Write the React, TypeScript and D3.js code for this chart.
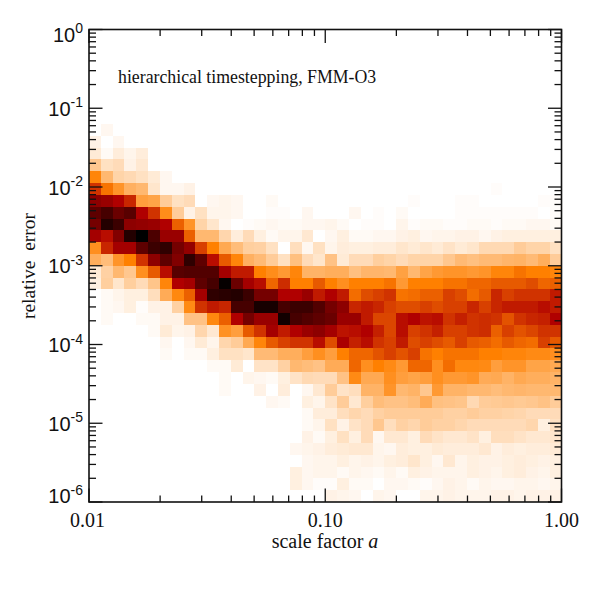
import React from 'react';
import * as d3 from 'd3';

const W = 591;
const left = 89, right = 561.5, top = 29.5, bottom = 502;

const yDecades = [0, -1, -2, -3, -4, -5, -6];
const xLabels = ['0.01', '0.10', '1.00'];
const xMajor = [0.01, 0.1, 1];
const title = 'hierarchical timestepping, FMM-O3';

// colour level per bin. rows run top to bottom, missing trailing bins are empty
const row08 = [0, 3];
const row09 = [5, 0, 3];
const row10 = [8, 2, 7, 4, 7];
const row11 = [22, 12, 14, 5, 9];
const row12 = [48, 28, 17, 15, 12, 8, 3];
const row13 = [62, 52, 42, 31, 28, 10, 3, 3, 5, 0, 0, 0, 0, 0, 0, 0, 0, 0, 0, 0, 0, 0, 0, 0, 0, 0, 0, 0, 0, 0, 0, 0, 0, 0, 1];
const row14 = [76, 74, 70, 64, 38, 36, 20, 12, 14, 0, 3, 4, 3, 0, 0, 2, 0, 0, 0, 0, 0, 0, 0, 0, 0, 0, 0, 1, 0, 0, 0, 1, 1, 0, 0, 0, 0, 0, 1, 1];
const row15 = [84, 88, 82, 85, 70, 62, 45, 20, 5, 12, 4, 4, 3, 0, 0, 1, 1, 0, 3, 0, 0, 0, 3, 0, 1, 0, 2, 0, 0, 0, 0, 1, 1, 1, 1, 1, 1, 1, 0, 1];
const row16 = [80, 94, 90, 76, 75, 74, 70, 55, 42, 17, 10, 3, 0, 1, 2, 3, 2, 2, 3, 3, 4, 2, 0, 1, 1, 0, 4, 1, 2, 2, 1, 1, 2, 2, 1, 2, 2, 3, 3, 2];
const row17 = [72, 68, 78, 94, 100, 87, 74, 74, 55, 28, 28, 16, 7, 14, 6, 2, 4, 4, 9, 0, 3, 6, 2, 2, 3, 3, 5, 6, 3, 4, 4, 5, 5, 3, 5, 6, 6, 6, 6, 6];
const row18 = [44, 64, 72, 72, 84, 90, 92, 80, 75, 60, 50, 34, 26, 19, 18, 12, 0, 13, 3, 12, 4, 7, 6, 6, 7, 7, 10, 8, 10, 8, 11, 8, 10, 15, 15, 15, 20, 17, 17, 12];
const row19 = [32, 26, 42, 50, 62, 76, 84, 78, 92, 84, 68, 56, 48, 31, 27, 20, 12, 25, 14, 10, 24, 8, 14, 14, 19, 17, 14, 17, 17, 17, 22, 27, 25, 27, 27, 29, 30, 27, 32, 20];
const row20 = [8, 18, 28, 22, 44, 56, 68, 85, 86, 86, 86, 72, 66, 66, 50, 45, 40, 48, 30, 30, 32, 32, 25, 29, 29, 28, 37, 28, 36, 40, 42, 42, 40, 42, 48, 48, 52, 50, 50, 48];
const row21 = [6, 19, 10, 19, 14, 23, 48, 70, 72, 84, 88, 99, 82, 72, 68, 54, 63, 50, 50, 56, 50, 44, 50, 50, 50, 52, 40, 50, 50, 50, 52, 52, 54, 54, 56, 56, 56, 58, 54, 55];
const row22 = [0, 2, 4, 6, 6, 13, 33, 47, 55, 72, 92, 93, 94, 90, 80, 80, 70, 70, 74, 66, 70, 66, 53, 58, 60, 62, 52, 53, 55, 55, 60, 58, 53, 56, 64, 60, 62, 62, 62, 66];
const row23 = [0, 2, 3, 6, 1, 5, 5, 18, 46, 62, 66, 64, 88, 88, 96, 96, 88, 90, 90, 86, 80, 76, 64, 66, 64, 60, 58, 58, 60, 58, 60, 60, 64, 60, 64, 66, 66, 66, 68, 66];
const row24 = [0, 2, 0, 0, 2, 2, 5, 5, 24, 24, 47, 55, 70, 80, 74, 74, 97, 88, 86, 84, 82, 74, 74, 66, 59, 59, 68, 70, 67, 68, 62, 65, 62, 63, 62, 57, 62, 64, 65, 70];
const row25 = [0, 0, 0, 0, 0, 2, 8, 4, 5, 16, 9, 43, 38, 56, 62, 72, 66, 70, 74, 76, 72, 67, 68, 70, 65, 59, 68, 60, 62, 65, 60, 60, 62, 63, 55, 60, 57, 59, 62, 62];
const row26 = [0, 0, 0, 0, 0, 0, 3, 0, 3, 8, 4, 16, 20, 34, 48, 56, 60, 62, 62, 68, 58, 71, 65, 68, 62, 60, 66, 58, 60, 58, 56, 60, 56, 55, 53, 56, 54, 53, 60, 56];
const row27 = [0, 0, 0, 0, 0, 0, 2, 0, 2, 2, 6, 12, 12, 10, 27, 27, 32, 32, 38, 44, 38, 50, 54, 54, 57, 60, 57, 60, 52, 50, 52, 52, 52, 50, 50, 48, 48, 46, 46, 44];
const row28 = [0, 0, 0, 0, 0, 0, 0, 0, 0, 0, 2, 2, 8, 0, 11, 11, 18, 28, 26, 24, 33, 33, 54, 44, 50, 46, 40, 54, 54, 44, 53, 47, 47, 46, 38, 42, 42, 36, 36, 34];
const row29 = [0, 0, 0, 0, 0, 0, 0, 0, 0, 0, 0, 2, 0, 4, 3, 2, 6, 11, 15, 14, 14, 24, 46, 34, 34, 44, 38, 36, 38, 44, 40, 40, 42, 33, 34, 30, 34, 32, 32, 30];
const row30 = [0, 0, 0, 0, 0, 0, 0, 0, 0, 0, 0, 2, 0, 0, 5, 0, 7, 0, 3, 9, 20, 11, 13, 30, 30, 42, 28, 30, 22, 40, 30, 30, 28, 28, 26, 28, 29, 28, 28, 28];
const row31 = [0, 0, 0, 0, 0, 0, 0, 0, 0, 0, 0, 0, 0, 0, 0, 3, 2, 0, 6, 4, 11, 20, 9, 19, 26, 24, 24, 26, 33, 25, 24, 23, 15, 20, 21, 22, 21, 22, 24, 20];
const row32 = [0, 0, 0, 0, 0, 0, 0, 0, 0, 0, 0, 0, 0, 0, 0, 0, 0, 0, 2, 7, 7, 13, 16, 14, 18, 20, 20, 20, 20, 20, 18, 18, 20, 18, 18, 17, 16, 14, 14, 14];
const row33 = [0, 0, 0, 0, 0, 0, 0, 0, 0, 0, 0, 0, 0, 0, 0, 0, 0, 0, 2, 4, 12, 5, 11, 14, 22, 13, 18, 16, 20, 18, 18, 16, 14, 14, 14, 14, 14, 16, 6, 12];
const row34 = [0, 0, 0, 0, 0, 0, 0, 0, 0, 0, 0, 0, 0, 0, 0, 0, 0, 0, 5, 2, 6, 12, 6, 14, 3, 9, 9, 6, 14, 11, 9, 9, 11, 6, 13, 13, 11, 9, 9, 10];
const row35 = [0, 0, 0, 0, 0, 0, 0, 0, 0, 0, 0, 0, 0, 0, 0, 0, 0, 3, 4, 5, 7, 8, 9, 9, 4, 3, 7, 6, 6, 8, 7, 7, 7, 9, 5, 7, 6, 7, 7, 8];
const row36 = [0, 0, 0, 0, 0, 0, 0, 0, 0, 0, 0, 0, 0, 0, 0, 0, 0, 0, 3, 4, 4, 6, 4, 5, 4, 6, 7, 10, 6, 3, 9, 4, 6, 5, 5, 6, 7, 6, 5, 6];
const row37 = [0, 0, 0, 0, 0, 0, 0, 0, 0, 0, 0, 0, 0, 0, 0, 0, 0, 6, 3, 4, 4, 2, 4, 3, 2, 4, 2, 6, 5, 4, 4, 4, 6, 5, 4, 6, 7, 5, 4, 6];
const row38 = [0, 0, 0, 0, 0, 0, 0, 0, 0, 0, 0, 0, 0, 0, 0, 0, 0, 6, 3, 1, 1, 6, 2, 2, 0, 3, 3, 2, 1, 3, 5, 4, 2, 4, 3, 3, 4, 4, 3, 4];
const row39 = [0, 0, 0, 0, 0, 0, 0, 0, 0, 0, 0, 0, 0, 0, 0, 0, 0, 0, 0, 0, 5, 4, 3, 0, 4, 3, 0, 0, 4, 4, 5, 4, 4, 4, 5, 5, 4, 5, 5, 5];

const rows = [
  row08, row09, row10, row11, row12, row13, row14, row15, row16, row17, row18, row19, row20, row21, row22, row23,
  row24, row25, row26, row27, row28, row29, row30, row31, row32, row33, row34, row35, row36, row37, row38, row39,
];
const firstRow = 8; // rows 0-7 are empty
const nBins = 40;

const x = d3.scaleLog().domain([0.01, 1]).range([left, right]);
const y = d3.scaleLog().domain([1, 1e-6]).range([top, bottom]);
const color = d3
  .scaleLinear<string>()
  .domain([0, 50, 70, 100])
  .range(['#ffffff', '#ff8000', '#b00000', '#000000']);

// bin edges are even in log space
const aEdge = (i: number) => Math.pow(10, -2 + (2 * i) / nBins);
const errEdge = (j: number) => Math.pow(10, (-6 * j) / nBins);

// log minor ticks, 2..9 in every decade
const minorTicks = (lo: number, hi: number) => {
  const out: number[] = [];
  for (let e = lo; e < hi; e++) {
    for (let m = 2; m < 10; m++) out.push(m * Math.pow(10, e));
  }
  return out;
};
const xMinor = minorTicks(-2, 0);
const yMinor = minorTicks(-6, 0);

const serif = '"Liberation Serif", serif';
const sans = '"Liberation Sans", sans-serif';

export default function App() {
  return (
    <svg width={W} height={W} style={{ position: 'absolute', left: 0, top: 0, background: '#fff' }}>
      <g shapeRendering="crispEdges">
        {rows.map((row, r) =>
          row.map((v, c) =>
            v > 0 ? (
              <rect
                key={r + '-' + c}
                x={x(aEdge(c))}
                y={y(errEdge(r + firstRow))}
                width={x(aEdge(c + 1)) - x(aEdge(c))}
                height={y(errEdge(r + firstRow + 1)) - y(errEdge(r + firstRow))}
                fill={color(v)}
              />
            ) : null
          )
        )}
      </g>

      <g stroke="#111" strokeWidth={1.3} fill="none">
        {xMinor.map(t => (
          <g key={t}>
            <line x1={x(t)} x2={x(t)} y1={bottom} y2={bottom - 6.5} />
            <line x1={x(t)} x2={x(t)} y1={top} y2={top + 6.5} />
          </g>
        ))}
        {xMajor.map(t => (
          <g key={t}>
            <line x1={x(t)} x2={x(t)} y1={bottom} y2={bottom - 13.5} />
            <line x1={x(t)} x2={x(t)} y1={top} y2={top + 13.5} />
          </g>
        ))}
        {yMinor.map(t => (
          <g key={t}>
            <line x1={left} x2={left + 7} y1={y(t)} y2={y(t)} />
            <line x1={right} x2={right - 7} y1={y(t)} y2={y(t)} />
          </g>
        ))}
        {yDecades.map(d => (
          <g key={d}>
            <line x1={left} x2={left + 13.5} y1={y(Math.pow(10, d))} y2={y(Math.pow(10, d))} />
            <line x1={right} x2={right - 13.5} y1={y(Math.pow(10, d))} y2={y(Math.pow(10, d))} />
          </g>
        ))}
        <rect x={left} y={top} width={right - left} height={bottom - top} strokeWidth={1.6} />
      </g>

      {yDecades.map((d, i) => {
        // the end labels sit inside the frame height
        const dy = i === 0 ? 12 : i === yDecades.length - 1 ? 1 : 7.5;
        const base = y(Math.pow(10, d)) + dy;
        return (
          <text key={d} x={83} y={base} textAnchor="end" fontFamily={sans} fontSize={20} fill="#111">
            10
            <tspan dy={-8.5} fontSize={14}>
              {String(d)}
            </tspan>
          </text>
        );
      })}

      {xMajor.map((t, i) => (
        <text key={t} x={x(t) - (i === 0 ? 1.5 : 0)} y={527} textAnchor="middle" fontFamily={serif} fontSize={20} fill="#111">
          {xLabels[i]}
        </text>
      ))}

      <text x={325} y={548} textAnchor="middle" fontFamily={serif} fontSize={20} fill="#111">
        scale factor <tspan fontStyle="italic">a</tspan>
      </text>
      <text
        transform="translate(35,266) rotate(-90)"
        textAnchor="middle"
        fontFamily={serif}
        fontSize={19.5}
        fill="#111"
        style={{ whiteSpace: 'pre' }}
      >
        {'relative  error'}
      </text>
      <text x={118} y={83} fontFamily={serif} fontSize={17.8} fill="#111">
        {title}
      </text>
    </svg>
  );
}
